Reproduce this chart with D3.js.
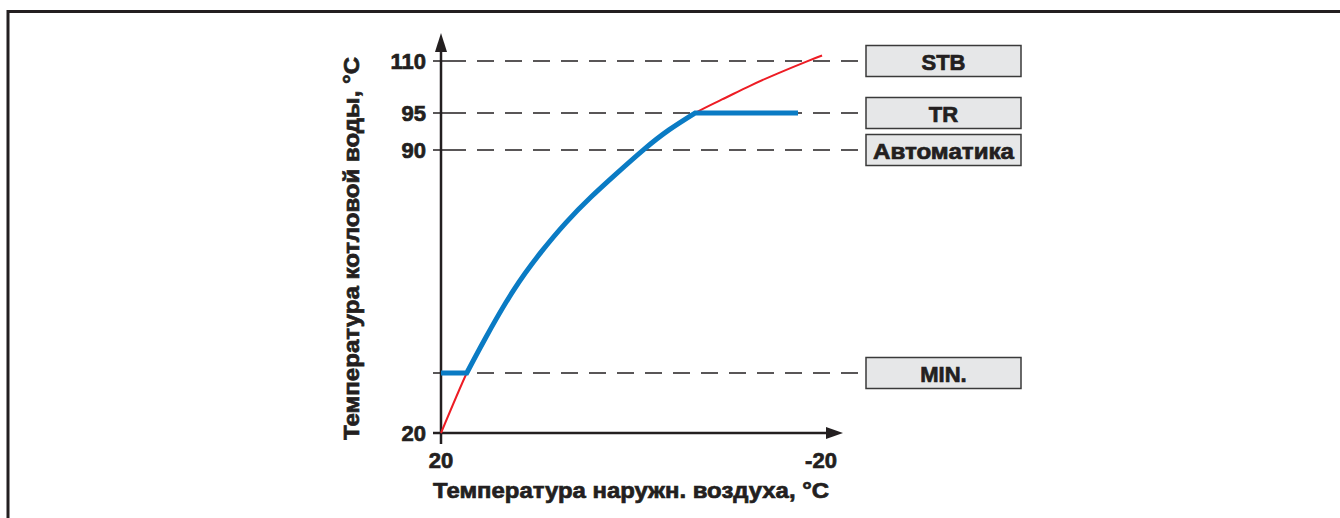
<!DOCTYPE html>
<html>
<head>
<meta charset="utf-8">
<script src="https://cdn.jsdelivr.net/npm/d3@7"></script>
<style>
  body { margin: 0; background: #fff; }
  svg { display: block; font-family: "Liberation Sans", Arial, sans-serif; font-weight: bold; }
  svg text { fill: #231f20; stroke: #231f20; stroke-width: 0.7px; }
</style>
</head>
<body>
<svg width="1340" height="518"></svg>
<script>
// heating curve: outdoor temperature vs boiler water temperature
const outdoorTemp = [20, 17.29, 15.37, 12.42, 9.47, 6.84, 4.21, 1.47, -1.37, -4.0, -6.74, -9.58, -12.53, -15.47, -18.53, -20.11];
const boilerTemp  = [20, 35, 43.4, 55.2, 64.8, 72.1, 78.4, 84.3, 90.09, 92.72, 95, 98.92, 102.85, 106.45, 109.91, 111.59];

const xTicks = [20, -20];
const yTicks = [20, 90, 95, 110];

const levelNames  = ["STB", "TR", "Автоматика", "MIN."];
const levelValues = [110, 95, 90, 35];

const minTemp = 35, trTemp = 95, blueEnd = -17.58;

const xTitle = "Температура наружн. воздуха, °C";
const yTitle = "Температура котловой воды, °C";

const axisColor = "#231f20";
const svg = d3.select("svg");

// frame
svg.append("rect")
  .attr("x", 8).attr("y", 11.5)
  .attr("width", 1400).attr("height", 600)
  .attr("fill", "none").attr("stroke", "#231f20").attr("stroke-width", 3);

// scales (y axis is schematic, so piecewise)
const x = d3.scaleLinear().domain([20, -20]).range([441, 821]);
const y = d3.scaleLinear().domain([20, 35, 90, 95, 110]).range([433, 373, 150, 113, 61]);

const boxLeft = 866, boxRight = 1021, boxH = 31;

// dashed reference lines
svg.selectAll("line.ref").data(levelValues).enter().append("line")
  .attr("class", "ref")
  .attr("x1", 441).attr("x2", boxLeft)
  .attr("y1", d => y(d)).attr("y2", d => y(d))
  .attr("stroke", axisColor).attr("stroke-width", 1.4)
  .attr("stroke-dasharray", "17,11")
  .attr("stroke-dashoffset", -8);

// small solid tick left of y-axis
svg.selectAll("line.tk").data(yTicks.concat([minTemp])).enter().append("line")
  .attr("class", "tk")
  .attr("x1", 433).attr("x2", 449)
  .attr("y1", d => y(d)).attr("y2", d => y(d))
  .attr("stroke", axisColor).attr("stroke-width", 1.5);

// boxes
const boxes = svg.selectAll("g.box").data(levelNames).enter().append("g").attr("class", "box");
boxes.append("rect")
  .attr("x", boxLeft).attr("width", boxRight - boxLeft)
  .attr("y", (d, i) => y(levelValues[i]) - boxH / 2).attr("height", boxH)
  .attr("fill", "#e6e7e8").attr("stroke", "#3a3a3a").attr("stroke-width", 1.5);
boxes.append("text")
  .attr("x", (boxLeft + boxRight) / 2)
  .attr("y", (d, i) => y(levelValues[i]) + 8.5)
  .attr("text-anchor", "middle")
  .attr("font-size", 22)
  .each(function(d) { if (d.length > 5) d3.select(this).attr("textLength", 141).attr("lengthAdjust", "spacingAndGlyphs"); })
  .text(d => d);

// axes
svg.append("line")
  .attr("x1", 441).attr("x2", 441).attr("y1", 444).attr("y2", 50)
  .attr("stroke", axisColor).attr("stroke-width", 2.5);
svg.append("path")
  .attr("d", "M441,33 L447,52 L435,52 Z").attr("fill", axisColor);
svg.append("line")
  .attr("x1", 433).attr("x2", 830).attr("y1", 433).attr("y2", 433)
  .attr("stroke", axisColor).attr("stroke-width", 2.5);
svg.append("path")
  .attr("d", "M843,433 L826,427 L826,439 Z").attr("fill", axisColor);

// tick labels
svg.selectAll("text.yt").data(yTicks).enter().append("text")
  .attr("class", "yt")
  .attr("x", 426).attr("y", d => y(d) + 8)
  .attr("text-anchor", "end").attr("font-size", 22)
  .text(d => d);
svg.selectAll("text.xt").data(xTicks).enter().append("text")
  .attr("class", "xt")
  .attr("x", d => x(d)).attr("y", 468)
  .attr("text-anchor", "middle").attr("font-size", 22)
  .text(d => d);

// titles
svg.append("text")
  .attr("x", 433).attr("y", 498)
  .attr("font-size", 22)
  .attr("textLength", 396).attr("lengthAdjust", "spacingAndGlyphs")
  .text(xTitle);
svg.append("text")
  .attr("transform", "translate(359,440) rotate(-90)")
  .attr("font-size", 22)
  .attr("textLength", 383).attr("lengthAdjust", "spacingAndGlyphs")
  .text(yTitle);

// curves
const pts = outdoorTemp.map((t, i) => [x(t), y(boilerTemp[i])]);
const curve = d3.line().curve(d3.curveNatural);

svg.append("path")
  .attr("d", curve(pts))
  .attr("fill", "none").attr("stroke", "#ed1c24").attr("stroke-width", 2);

const bluePts = outdoorTemp
  .map((t, i) => [t, boilerTemp[i]])
  .filter(d => d[1] >= minTemp && d[1] <= trTemp)
  .map(d => [x(d[0]), y(d[1])]);
const blueD = `M${x(20)},${y(minTemp)}` +
  curve(bluePts).replace(/^M/, "L") +
  `L${x(blueEnd)},${y(trTemp)}`;
svg.append("path")
  .attr("d", blueD)
  .attr("fill", "none").attr("stroke", "#0a7bc4").attr("stroke-width", 5)
  .attr("stroke-linejoin", "miter");
</script>
</body>
</html>
